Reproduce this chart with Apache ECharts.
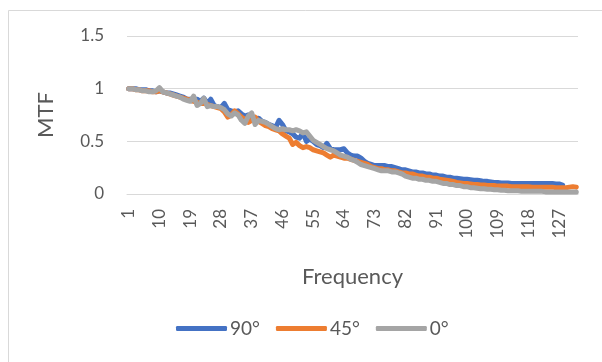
<!DOCTYPE html>
<html>
<head>
<meta charset="utf-8">
<script src="https://cdn.jsdelivr.net/npm/echarts@6/dist/echarts.min.js"></script>
<style>
  html, body { margin: 0; padding: 0; background: #ffffff; }
  #chart { width: 602px; height: 362px; }
</style>
</head>
<body>
<div id="chart"></div>
<script>
// Frequency index 1..132
const frequencies = Array.from({ length: 132 }, (_, i) => String(i + 1));

const yTicks = { min: 0, max: 1.5, interval: 0.5 };

const seriesNames = ['90°', '45°', '0°'];
const seriesColors = ['#4472C4', '#ED7D31', '#A5A5A5'];

// MTF measured at 90°
const mtf90 = [
  1.00, 1.00, 1.00, 0.99, 0.99, 0.99, 0.98, 0.98, 0.97, 0.98,
  0.97, 0.96, 0.96, 0.95, 0.94, 0.93, 0.92, 0.90, 0.90, 0.89,
  0.90, 0.88, 0.91, 0.86, 0.90, 0.84, 0.83, 0.82, 0.86, 0.80,
  0.79, 0.78, 0.79, 0.76, 0.74, 0.75, 0.73, 0.71, 0.72, 0.69,
  0.68, 0.66, 0.65, 0.63, 0.70, 0.66, 0.60, 0.59, 0.57, 0.54,
  0.53, 0.58, 0.50, 0.52, 0.50, 0.47, 0.46, 0.44, 0.48, 0.43,
  0.42, 0.42, 0.42, 0.43, 0.39, 0.37, 0.36, 0.36, 0.34, 0.31,
  0.29, 0.28, 0.27, 0.27, 0.27, 0.27, 0.26, 0.26, 0.25, 0.24,
  0.23, 0.23, 0.22, 0.21, 0.21, 0.20, 0.20, 0.19, 0.19, 0.18,
  0.18, 0.17, 0.17, 0.16, 0.16, 0.15, 0.15, 0.145, 0.14, 0.14,
  0.135, 0.13, 0.13, 0.125, 0.12, 0.12, 0.115, 0.11, 0.11, 0.105,
  0.105, 0.105, 0.10, 0.10, 0.10, 0.10, 0.10, 0.10, 0.10, 0.10,
  0.10, 0.10, 0.10, 0.10, 0.10, 0.095, 0.095, 0.085
];

// MTF measured at 45°
const mtf45 = [
  1.00, 1.00, 0.99, 0.99, 0.98, 0.98, 0.98, 0.97, 0.97, 0.98,
  0.97, 0.96, 0.95, 0.94, 0.93, 0.92, 0.91, 0.90, 0.89, 0.88,
  0.87, 0.86, 0.86, 0.85, 0.84, 0.83, 0.82, 0.81, 0.78, 0.73,
  0.75, 0.79, 0.76, 0.73, 0.71, 0.68, 0.70, 0.73, 0.69, 0.67,
  0.65, 0.64, 0.62, 0.61, 0.60, 0.57, 0.55, 0.53, 0.47, 0.49,
  0.46, 0.44, 0.45, 0.44, 0.42, 0.41, 0.40, 0.39, 0.37, 0.35,
  0.37, 0.36, 0.35, 0.34, 0.34, 0.33, 0.32, 0.31, 0.30, 0.29,
  0.28, 0.26, 0.25, 0.24, 0.24, 0.23, 0.23, 0.22, 0.22, 0.21,
  0.20, 0.20, 0.19, 0.19, 0.18, 0.17, 0.17, 0.16, 0.16, 0.15,
  0.15, 0.14, 0.135, 0.13, 0.125, 0.12, 0.11, 0.105, 0.10, 0.10,
  0.095, 0.09, 0.09, 0.085, 0.085, 0.08, 0.08, 0.08, 0.075, 0.075,
  0.075, 0.075, 0.07, 0.07, 0.07, 0.07, 0.07, 0.07, 0.065, 0.065,
  0.065, 0.065, 0.065, 0.065, 0.065, 0.06, 0.06, 0.06, 0.06, 0.065,
  0.07, 0.065
];

// MTF measured at 0°
const mtf0 = [
  1.00, 1.00, 0.99, 0.99, 0.98, 0.98, 0.97, 0.97, 0.98, 1.01,
  0.97, 0.96, 0.95, 0.94, 0.93, 0.92, 0.90, 0.89, 0.88, 0.93,
  0.84, 0.86, 0.91, 0.83, 0.84, 0.83, 0.83, 0.82, 0.80, 0.76,
  0.74, 0.77, 0.75, 0.70, 0.67, 0.74, 0.77, 0.66, 0.70, 0.69,
  0.68, 0.66, 0.64, 0.62, 0.61, 0.62, 0.61, 0.61, 0.60, 0.61,
  0.60, 0.58, 0.59, 0.55, 0.51, 0.49, 0.47, 0.45, 0.43, 0.42,
  0.41, 0.39, 0.37, 0.36, 0.35, 0.33, 0.32, 0.30, 0.28, 0.27,
  0.26, 0.25, 0.24, 0.23, 0.22, 0.22, 0.22, 0.21, 0.21, 0.20,
  0.19, 0.17, 0.16, 0.15, 0.15, 0.14, 0.14, 0.13, 0.13, 0.12,
  0.12, 0.11, 0.10, 0.10, 0.09, 0.09, 0.08, 0.08, 0.07, 0.07,
  0.06, 0.06, 0.055, 0.05, 0.05, 0.045, 0.045, 0.04, 0.04, 0.035,
  0.035, 0.03, 0.03, 0.03, 0.03, 0.025, 0.025, 0.025, 0.025, 0.025,
  0.025, 0.025, 0.02, 0.02, 0.02, 0.02, 0.02, 0.02, 0.02, 0.02,
  0.02, 0.02
];

const seriesData = [mtf90, mtf45, mtf0];

const textColor = '#595959';
const gridColor = '#d9d9d9';
const fontFamily = 'Lato, "Open Sans", sans-serif';

const chart = echarts.init(document.getElementById('chart'), null, { renderer: 'canvas' });

chart.setOption({
  backgroundColor: '#ffffff',
  animation: false,
  textStyle: { fontFamily: fontFamily, color: textColor },
  graphic: [{
    type: 'rect',
    shape: { x: 8.5, y: 10.5, width: 620, height: 380 },
    style: { fill: 'none', stroke: gridColor, lineWidth: 1 },
    silent: true,
    z: -1
  }],
  grid: { left: 127, right: 24, top: 36, bottom: 168, containLabel: false },
  legend: {
    bottom: 19,
    left: 171,
    icon: 'roundRect',
    itemWidth: 51,
    itemHeight: 5,
    itemGap: 16,
    textStyle: { color: textColor, fontSize: 19, fontFamily: fontFamily, padding: [0, 0, 0, -2] },
    data: seriesNames
  },
  xAxis: {
    type: 'category',
    data: frequencies,
    boundaryGap: true,
    name: 'Frequency',
    nameLocation: 'middle',
    nameGap: 72,
    nameTextStyle: { color: textColor, fontSize: 22, fontFamily: fontFamily },
    axisLine: { show: true, lineStyle: { color: gridColor, width: 1 } },
    axisTick: { show: false },
    axisLabel: {
      interval: 8,
      rotate: 90,
      margin: 15,
      color: textColor,
      fontSize: 17,
      fontFamily: fontFamily
    },
    splitLine: { show: false }
  },
  yAxis: {
    type: 'value',
    min: yTicks.min,
    max: yTicks.max,
    interval: yTicks.interval,
    name: 'MTF',
    nameLocation: 'middle',
    nameGap: 70,
    nameTextStyle: { color: textColor, fontSize: 22, fontFamily: fontFamily },
    axisLine: { show: false },
    axisTick: { show: false },
    axisLabel: {
      margin: 23,
      color: textColor,
      fontSize: 17,
      fontFamily: fontFamily,
      formatter: v => String(v)
    },
    splitLine: { show: true, lineStyle: { color: gridColor, width: 1 } }
  },
  series: seriesNames.map((name, k) => ({
    name: name,
    type: 'line',
    data: seriesData[k],
    showSymbol: false,
    symbol: 'none',
    smooth: false,
    color: seriesColors[k],
    lineStyle: { color: seriesColors[k], width: 5, cap: 'round', join: 'round' },
    z: 2 + k
  }))
});
</script>
</body>
</html>
